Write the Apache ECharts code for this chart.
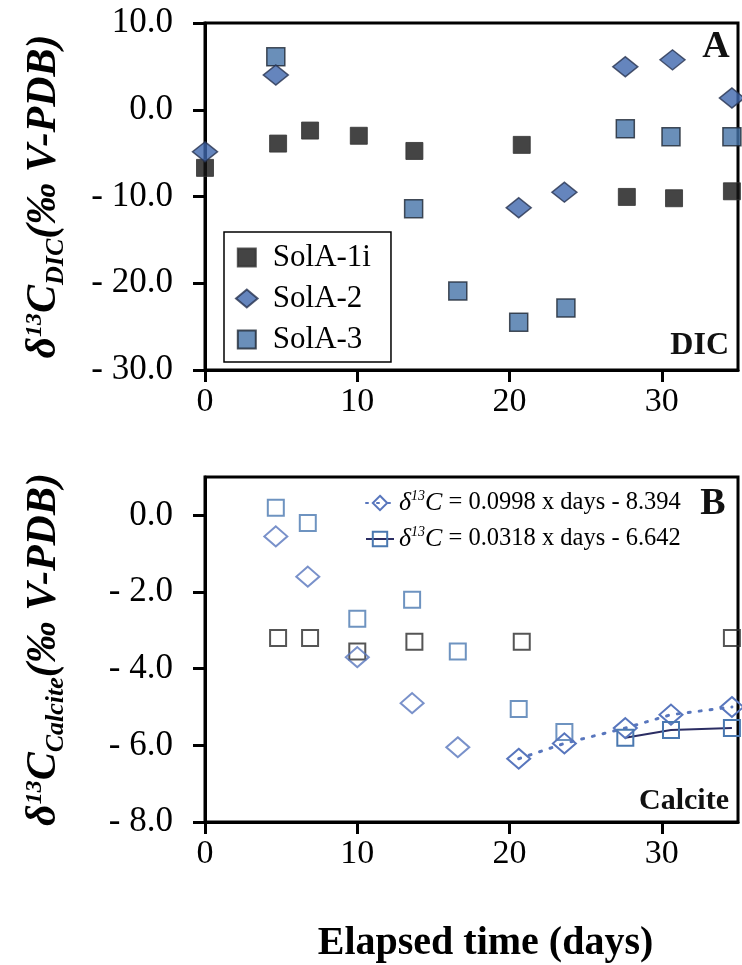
<!DOCTYPE html>
<html><head><meta charset="utf-8">
<script src="https://cdn.jsdelivr.net/npm/echarts@6/dist/echarts.min.js"></script>
<style>html,body{margin:0;padding:0;background:#fff}#c{width:742px;height:965px}</style>
</head><body><div id="c"></div>
<script>
// ---- tick values ----
const xTicks = [0, 10, 20, 30];
const dicYTicks = [-30, -20, -10, 0, 10];
const calYTicks = [-8, -6, -4, -2, 0];

// ---- Panel A : DIC ----
const solA1iDays = [0, 4.8, 6.9, 10.1, 13.75, 20.8, 27.7, 30.8, 34.6];
const solA1iDIC  = [-6.7, -3.9, -2.4, -3.0, -4.75, -4.05, -10.05, -10.2, -9.4];
const solA2Days  = [0, 4.65, 20.6, 23.6, 27.6, 30.7, 34.6];
const solA2DIC   = [-4.85, 4.0, -11.3, -9.5, 4.95, 5.75, 1.35];
const solA3Days  = [4.65, 13.7, 16.6, 20.6, 23.7, 27.6, 30.6, 34.6];
const solA3DIC   = [6.1, -11.4, -20.9, -24.5, -22.85, -2.2, -3.1, -3.1];

// ---- Panel B : Calcite ----
const cal1Days = [4.8, 6.9, 10.0, 13.75, 20.8, 34.6];
const cal1Val  = [-3.2, -3.2, -3.55, -3.3, -3.3, -3.2];
const cal2Days = [4.65, 6.75, 10.0, 13.6, 16.6, 20.6, 23.6, 27.6, 30.6, 34.6];
const cal2Val  = [-0.55, -1.6, -3.7, -4.9, -6.05, -6.35, -5.95, -5.55, -5.2, -5.0];
const cal3Days = [4.65, 6.75, 10.0, 13.6, 16.6, 20.6, 23.6, 27.6, 30.6, 34.6];
const cal3Val  = [0.2, -0.2, -2.7, -2.2, -3.55, -5.05, -5.65, -5.8, -5.6, -5.55];
const fit2Start = 5;   // first diamond belonging to dotted trend
const fit3Start = 7;   // first square belonging to solid trend
const seriesNamesA = ['SolA-1i', 'SolA-2', 'SolA-3'];
const fitLabels = ['δ13C = 0.0998 x days - 8.394', 'δ13C = 0.0318 x days - 6.642'];

const pts = (xs, ys) => xs.map((x, i) => [x, ys[i]]);
const SERIF = 'Liberation Serif';
const fmtY = v => (v < 0 ? '- ' + Math.abs(v).toFixed(1) : v.toFixed(1));
const SQUARE_ICON = 'path://M0,0L20,0L20,20L0,20Z';
const DIAMOND_ICON = 'path://M12,0L24,10L12,20L0,10Z';

function xAxis(gi, withName) {
  const a = {
    type: 'value', gridIndex: gi, min: 0, max: 35, interval: 10,
    axisLine: { show: true, onZero: false, lineStyle: { color: '#000', width: 3 } },
    axisTick: { show: true, length: 12, customValues: xTicks, lineStyle: { color: '#000', width: 3 } },
    axisLabel: { customValues: xTicks, fontFamily: SERIF, fontSize: 34, color: '#000', margin: 15 },
    splitLine: { show: false }
  };
  if (withName) {
    a.name = 'Elapsed time (days)';
    a.nameLocation = 'middle';
    a.nameGap = 102;
    a.nameTextStyle = { fontFamily: SERIF, fontSize: 40, fontWeight: 'bold', color: '#000', padding: [0, 0, 0, 28] };
  }
  return a;
}
function yAxis(gi, min, max, interval, ticks, nameRich) {
  return {
    type: 'value', gridIndex: gi, min: min, max: max, interval: interval,
    axisLine: { show: true, onZero: false, lineStyle: { color: '#000', width: 3 } },
    axisTick: { show: true, length: 12, customValues: ticks, lineStyle: { color: '#000', width: 3 } },
    axisLabel: { customValues: ticks, formatter: fmtY, fontFamily: SERIF, fontSize: 35, color: '#000', margin: 32 },
    splitLine: { show: false },
    name: nameRich, nameLocation: 'middle', nameRotate: 90, nameGap: 136,
    nameTextStyle: {
      color: '#000',
      rich: {
        d: { fontFamily: SERIF, fontSize: 42, fontWeight: 'bold', fontStyle: 'italic', color: '#000', lineHeight: 50 },
        sup: { fontFamily: SERIF, fontSize: 24, fontWeight: 'bold', fontStyle: 'italic', color: '#000', verticalAlign: 'top', lineHeight: 50, padding: [4, 0, 0, 0] },
        sub: { fontFamily: SERIF, fontSize: 26, fontWeight: 'bold', fontStyle: 'italic', color: '#000', verticalAlign: 'bottom', lineHeight: 50 }
      }
    }
  };
}

const chart = echarts.init(document.getElementById('c'), null, { renderer: 'canvas' });
const option = {
  backgroundColor: '#fff',
  animation: false,
  grid: [
    { left: 205, top: 23, width: 533, height: 347, show: true, borderColor: '#000', borderWidth: 3, containLabel: false },
    { left: 205, top: 477, width: 533, height: 346, show: true, borderColor: '#000', borderWidth: 3, containLabel: false }
  ],
  xAxis: [xAxis(0, false), xAxis(1, true)],
  yAxis: [
    yAxis(0, -30, 10, 10, dicYTicks, '{d|δ}{sup|13}{d|C}{sub|DIC}{d|(‰ V-PDB)}'),
    yAxis(1, -8, 1, 2, calYTicks, '{d|δ}{sup|13}{d|C}{sub|Calcite}{d|(‰ V-PDB)}')
  ],
  legend: [
    {
      data: [
        { name: seriesNamesA[0], icon: SQUARE_ICON },
        { name: seriesNamesA[1], icon: DIAMOND_ICON },
        { name: seriesNamesA[2], icon: SQUARE_ICON }
      ],
      orient: 'vertical', left: 224, top: 232, padding: [10, 20, 7, 11],
      borderColor: '#000', borderWidth: 1.5, backgroundColor: '#fff',
      itemWidth: 42, itemHeight: 18, itemGap: 10, selectedMode: false,
      textStyle: { fontFamily: SERIF, fontSize: 31, color: '#000' }
    },
    {
      data: fitLabels,
      orient: 'vertical', left: 365, top: 489, padding: 0,
      itemWidth: 28, itemHeight: 18, itemGap: 9, selectedMode: false,
      formatter: n => '{i|δ}{s|13}{i|C}{r|' + n.slice(4) + '}',
      textStyle: {
        fontFamily: SERIF, fontSize: 25, color: '#000',
        rich: {
          i: { fontFamily: SERIF, fontSize: 26, fontStyle: 'italic', color: '#000', lineHeight: 28 },
          s: { fontFamily: SERIF, fontSize: 14, fontStyle: 'italic', color: '#000', verticalAlign: 'top', lineHeight: 28 },
          r: { fontFamily: SERIF, fontSize: 24.5, color: '#000', lineHeight: 28 }
        }
      }
    }
  ],
  graphic: [
    { type: 'text', x: 716, y: 47, style: { text: 'A', font: 'bold 38px "Liberation Serif"', fill: '#111', textAlign: 'center', textVerticalAlign: 'middle' } },
    { type: 'text', x: 729, y: 346, style: { text: 'DIC', font: 'bold 32px "Liberation Serif"', fill: '#111', textAlign: 'right', textVerticalAlign: 'middle' } },
    { type: 'text', x: 713, y: 504, style: { text: 'B', font: 'bold 38px "Liberation Serif"', fill: '#111', textAlign: 'center', textVerticalAlign: 'middle' } },
    { type: 'text', x: 729, y: 801, style: { text: 'Calcite', font: 'bold 30px "Liberation Serif"', fill: '#111', textAlign: 'right', textVerticalAlign: 'middle' } }
  ],
  series: [
    // Panel A
    { name: seriesNamesA[0], type: 'scatter', xAxisIndex: 0, yAxisIndex: 0, symbol: 'rect', symbolSize: 17,
      itemStyle: { color: '#151515', borderColor: '#333', borderWidth: 1 }, data: pts(solA1iDays, solA1iDIC), z: 3 },
    { name: seriesNamesA[1], type: 'scatter', xAxisIndex: 0, yAxisIndex: 0, symbol: 'diamond', symbolSize: [25, 20],
      itemStyle: { color: '#3f66ad', borderColor: '#27324f', borderWidth: 1.5 }, data: pts(solA2Days, solA2DIC), z: 4 },
    { name: seriesNamesA[2], type: 'scatter', xAxisIndex: 0, yAxisIndex: 0, symbol: 'rect', symbolSize: 18,
      itemStyle: { color: '#4573a7', borderColor: '#1d2632', borderWidth: 1.5 }, data: pts(solA3Days, solA3DIC), z: 3 },
    // Panel B - open markers
    { name: 'calcite SolA-1i', type: 'scatter', xAxisIndex: 1, yAxisIndex: 1, symbol: 'rect', symbolSize: 16,
      itemStyle: { color: 'rgba(0,0,0,0)', borderColor: '#2a2a2a', borderWidth: 2 }, data: pts(cal1Days, cal1Val) },
    { name: 'calcite SolA-2', type: 'scatter', xAxisIndex: 1, yAxisIndex: 1, symbol: 'diamond', symbolSize: [23, 20],
      itemStyle: { color: 'rgba(0,0,0,0)', borderColor: '#5876bd', borderWidth: 2 },
      data: pts(cal2Days.slice(0, fit2Start), cal2Val.slice(0, fit2Start)) },
    { name: 'calcite SolA-3', type: 'scatter', xAxisIndex: 1, yAxisIndex: 1, symbol: 'rect', symbolSize: 16,
      itemStyle: { color: 'rgba(0,0,0,0)', borderColor: '#4a78b0', borderWidth: 2 },
      data: pts(cal3Days.slice(0, fit3Start), cal3Val.slice(0, fit3Start)) },
    // Panel B - trend series
    { name: fitLabels[0], type: 'line', xAxisIndex: 1, yAxisIndex: 1, symbol: 'diamond', symbolSize: [23, 20], showSymbol: true,
      itemStyle: { color: 'rgba(0,0,0,0)', borderColor: '#5876bd', borderWidth: 2 },
      lineStyle: { color: '#5876bd', width: 3, type: [2, 9], cap: 'round' },
      data: pts(cal2Days.slice(fit2Start), cal2Val.slice(fit2Start)) },
    { name: fitLabels[1], type: 'line', xAxisIndex: 1, yAxisIndex: 1, symbol: 'rect', symbolSize: 16, showSymbol: true,
      itemStyle: { color: 'rgba(0,0,0,0)', borderColor: '#4a78b0', borderWidth: 2 },
      lineStyle: { color: '#2b2d63', width: 2 },
      data: pts(cal3Days.slice(fit3Start), cal3Val.slice(fit3Start)) }
  ]
};
chart.setOption(option);
</script>
</body></html>
